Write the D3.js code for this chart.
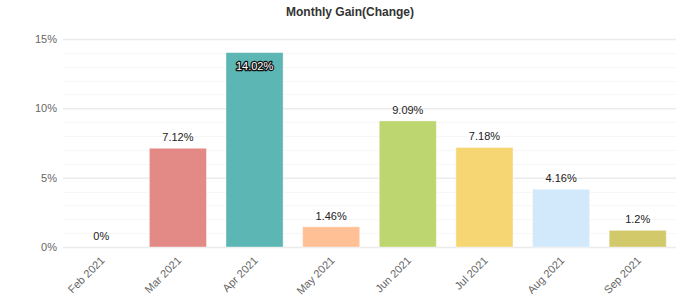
<!DOCTYPE html>
<html lang="en">
<head>
  <meta charset="UTF-8">
  <title>Monthly Gain(Change)</title>
  <script src="https://d3js.org/d3.v7.min.js"></script>
  <style>
    body { margin: 0; background: #fff; }
    text { font-family: "Liberation Sans", Arial, sans-serif; }
  </style>
</head>
<body>

<svg id="chart" width="699" height="304"></svg>

<script>
  // data
  var months = ['Feb 2021', 'Mar 2021', 'Apr 2021', 'May 2021', 'Jun 2021', 'Jul 2021', 'Aug 2021', 'Sep 2021'];
  var gains = [0, 7.12, 14.02, 1.46, 9.09, 7.18, 4.16, 1.2];
  var barColors = ['#8fb3d9', '#e38986', '#5bb6b4', '#ffc096', '#bed66f', '#f6d673', '#d2e8fb', '#d1c96a'];
  var yTicks = [0, 5, 10, 15];

  var svg = d3.select('#chart');
  var margin = { top: 39, right: 23, bottom: 57, left: 63 };
  var width = 699 - margin.left - margin.right;
  var height = 304 - margin.top - margin.bottom;

  var x = d3.scaleBand().domain(months).range([0, width]).paddingInner(0.255).paddingOuter(0.127);
  var y = d3.scaleLinear().domain([0, 15]).range([height, 0]);

  svg.append('text')
    .attr('x', 350).attr('y', 16)
    .attr('text-anchor', 'middle')
    .style('font-size', '12px').style('font-weight', 'bold').style('fill', '#333')
    .text('Monthly Gain(Change)');

  var g = svg.append('g').attr('transform', 'translate(' + margin.left + ',' + margin.top + ')');

  // minor grid
  g.selectAll('.minor').data(d3.range(0, 15, 1).filter(function (d) { return d % 5 !== 0; }))
    .enter().append('line')
    .attr('x1', 0).attr('x2', width)
    .attr('y1', function (d) { return Math.round(y(d)) + 0.5; })
    .attr('y2', function (d) { return Math.round(y(d)) + 0.5; })
    .attr('stroke', '#f7f7f7');

  // major grid + labels
  var yAxis = g.append('g')
    .call(d3.axisLeft(y).tickValues(yTicks).tickSize(-width).tickFormat(function (d) { return d + '%'; }));
  yAxis.select('.domain').remove();
  yAxis.selectAll('line').attr('stroke', '#ebebeb').attr('stroke-width', 1.5);
  yAxis.selectAll('text').attr('x', -6).attr('fill', '#666').style('font-size', '11px');

  // bars
  g.selectAll('.bar').data(gains).enter().append('rect')
    .attr('x', function (d, i) { return x(months[i]); })
    .attr('y', function (d) { return y(d); })
    .attr('width', x.bandwidth())
    .attr('height', function (d) { return height - y(d); })
    .attr('fill', function (d, i) { return barColors[i]; })
    .attr('stroke', 'rgba(255,255,255,0.4)');

  // value labels (top bar gets its label inside, outlined)
  g.selectAll('.val').data(gains).enter().append('text')
    .attr('x', function (d, i) { return x(months[i]) + x.bandwidth() / 2; })
    .attr('y', function (d) { return d > 13 ? y(d) + 17 : y(d) - 7; })
    .attr('text-anchor', 'middle')
    .style('font-size', '11px')
    .style('fill', function (d) { return d > 13 ? '#fff' : '#222'; })
    .style('stroke', function (d) { return d > 13 ? '#111' : 'none'; })
    .style('stroke-width', 2.5)
    .style('stroke-linejoin', 'round')
    .style('paint-order', 'stroke')
    .text(function (d) { return d + '%'; });

  // x axis labels
  var xAxis = g.append('g').attr('transform', 'translate(0,' + height + ')')
    .call(d3.axisBottom(x).tickSize(0));
  xAxis.select('.domain').remove();
  xAxis.selectAll('text')
    .attr('text-anchor', 'end')
    .attr('dy', 0)
    .attr('fill', '#666')
    .attr('transform', 'translate(2,12) rotate(-45)')
    .style('font-size', '11px');
</script>

</body>
</html>
